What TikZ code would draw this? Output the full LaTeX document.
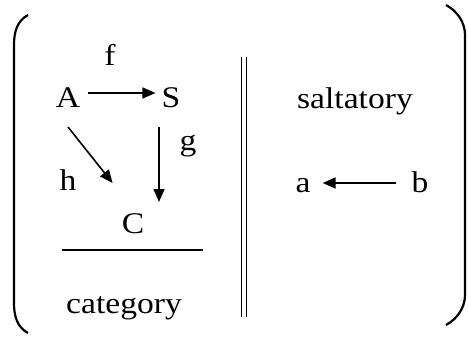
\documentclass[tikz,border=0pt]{standalone}
\usepackage{fontspec}
\setmainfont[FakeStretch=1.12]{Liberation Serif}
\usetikzlibrary{arrows.meta,calc}
\begin{document}
\begin{tikzpicture}[x=1pt,y=-1pt,
  lbl/.style={inner sep=0pt,anchor=base,font=\fontsize{30}{31}\selectfont},
  arr/.style={line width=1.6pt,-{Triangle[length=13pt,width=11pt]}},
  rule/.style={line width=1.6pt},
  paren/.style={line width=2.2pt}]
\useasboundingbox (0,0) rectangle (468,337);
% nodes
\node[lbl] (A) at (68,107) {A};
\node[lbl] (S) at (171,107) {S};
\node[lbl] (f) at (110,65) {f};
\node[lbl] (g) at (188,150) {g};
\node[lbl] (h) at (68,190) {h};
\node[lbl] (C) at (133,233) {C};
\node[lbl] (cat) at (124,313) {category};
\node[lbl] (sal) at (355,108) {saltatory};
\node[lbl] (a) at (303,192) {a};
\node[lbl] (b) at (420,192) {b};
% connectors
\draw[arr] ($(A.base east)+(8,-14)$) -- ($(S.base west)+(-6,-14)$);
\draw[arr] ($(S.base)+(-12,20)$) -- ($(C.base)+(26,-31)$);
\draw[arr] ($(A.base)+(0,20)$) -- ($(C.base west)+(-9,-50)$);
\draw[arr] ($(b.base west)+(-15,-9)$) -- ($(a.base east)+(12,-9)$);
% rules
\draw[rule] (62,250) -- (203,250);
\draw[rule] (241.5,57) -- (241.5,317);
\draw[rule] (246.5,57) -- (246.5,317);
% parentheses
\draw[paren] (28,15) .. controls (17,21) and (14,32) .. (14,45) -- (14,303) .. controls (14,316) and (17,327) .. (28,333);
\draw[paren] (446,5) .. controls (457,11) and (465,22) .. (465,35) -- (465,295) .. controls (465,308) and (457,319) .. (446,325);
\end{tikzpicture}
\end{document}
